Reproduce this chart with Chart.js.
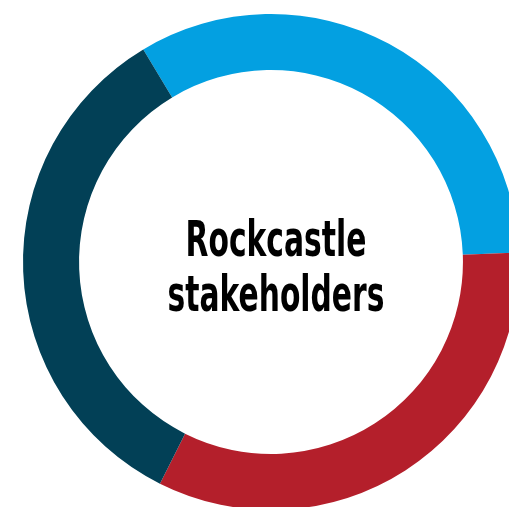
<!DOCTYPE html>
<html>
<head>
<meta charset="utf-8">
<script src="https://cdn.jsdelivr.net/npm/chart.js@4"></script>
<style>
  html, body { margin: 0; padding: 0; background: #fff; overflow: hidden; }
  #wrap { position: absolute; left: 0; top: 0; width: 520px; height: 515px; }
</style>
</head>
<body>
<div id="wrap"><canvas id="stakeholders-chart" width="520" height="515"></canvas></div>
<script>
// Data
let stakeholderLabels = ['Group A', 'Group B', 'Group C'];
let stakeholderValues = [33, 33, 34];
let stakeholderColors = ['#03a0e1', '#b41f2b', '#024056'];
let centerLines = ['Rockcastle', 'stakeholders'];

// Plugin - title in the hole of the doughnut
let centerTextPlugin = {
    id: 'centerText',
    afterDraw(chart) {
        let ctx = chart.ctx;
        let meta = chart.getDatasetMeta(0).data[0];
        let cx = meta.x + 5;
        let cy = meta.y;
        ctx.save();
        ctx.fillStyle = '#000';
        ctx.textAlign = 'center';
        ctx.textBaseline = 'alphabetic';
        ctx.font = 'bold 49px "DejaVu Sans Condensed", "DejaVu Sans", sans-serif';
        let offsets = [-6, 49];
        centerLines.forEach((line, i) => {
            ctx.save();
            ctx.translate(cx, cy + offsets[i]);
            ctx.scale(0.675, 1);
            ctx.fillText(line, 0, 0);
            ctx.restore();
        });
        ctx.restore();
    }
};

let ctx = document.getElementById('stakeholders-chart').getContext('2d');
let stakeholdersChart = new Chart(ctx, {
    type: 'doughnut',
    data: {
        labels: stakeholderLabels,
        datasets: [{
            data: stakeholderValues,
            backgroundColor: stakeholderColors,
            borderWidth: 0
        }]
    },
    options: {
        responsive: false,
        animation: false,
        rotation: -31,
        cutout: '77.4%',
        layout: {
            padding: { left: 23, top: 14, right: 1, bottom: 5 }
        },
        plugins: {
            legend: { display: false },
            tooltip: { enabled: false }
        }
    },
    plugins: [centerTextPlugin]
});
</script>
</body>
</html>
